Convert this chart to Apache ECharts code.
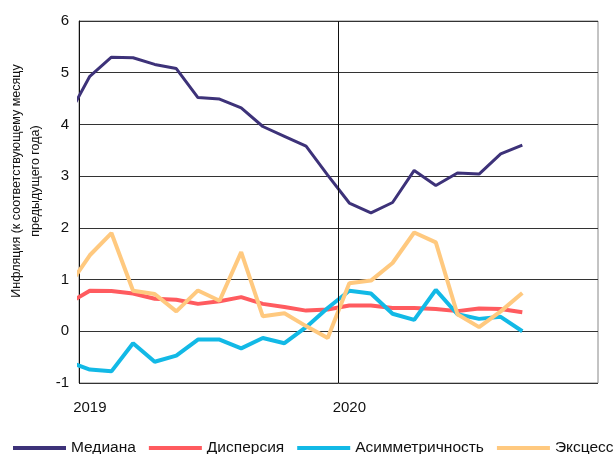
<!DOCTYPE html>
<html>
<head>
<meta charset="utf-8">
<script src="https://cdn.jsdelivr.net/npm/echarts@6/dist/echarts.min.js"></script>
<style>
  html, body { margin: 0; padding: 0; background: #fff; }
  #chart { width: 615px; height: 454px; }
</style>
</head>
<body>
<div id="chart"></div>
<script>
// months counted from Jan 2019 (0); -1 is Dec 2018, cut off by the axis
const months = [-1, 0, 1, 2, 3, 4, 5, 6, 7, 8, 9, 10, 11, 12, 13, 14, 15, 16, 17, 18, 19, 20];
const median = [4.16, 4.93, 5.30, 5.29, 5.16, 5.08, 4.52, 4.49, 4.32, 3.96, 3.77, 3.58, 3.02, 2.48, 2.29, 2.49, 3.11, 2.82, 3.06, 3.04, 3.43, 3.60];
const dispersion = [0.54, 0.785, 0.78, 0.73, 0.63, 0.61, 0.53, 0.58, 0.66, 0.53, 0.47, 0.40, 0.42, 0.50, 0.50, 0.45, 0.45, 0.43, 0.39, 0.44, 0.43, 0.37];
const asymmetry = [-0.59, -0.74, -0.775, -0.23, -0.59, -0.47, -0.16, -0.16, -0.33, -0.13, -0.23, 0.08, 0.45, 0.785, 0.73, 0.34, 0.22, 0.80, 0.33, 0.24, 0.28, 0.0];
const excess = [0.86, 1.47, 1.90, 0.785, 0.72, 0.385, 0.79, 0.59, 1.53, 0.29, 0.35, 0.10, -0.13, 0.93, 0.98, 1.32, 1.91, 1.72, 0.33, 0.08, 0.385, 0.74];
const yearTicks = [0, 12];
const yearLabels = ['2019', '2020'];

const font = '"Liberation Sans", Arial, sans-serif';

function pairs(values) {
  return months.map(function (m, i) { return [m, values[i]]; });
}

function lineSeries(name, values, color, width) {
  return {
    name: name,
    type: 'line',
    data: pairs(values),
    symbol: 'none',
    clip: true,
    lineStyle: { color: color, width: width },
    itemStyle: { color: color }
  };
}

const chart = echarts.init(document.getElementById('chart'));
const series = [
  lineSeries('Медиана', median, '#3d3279', 3),
  lineSeries('Дисперсия', dispersion, '#ff5b5f', 4),
  lineSeries('Асимметричность', asymmetry, '#12b9e6', 4),
  lineSeries('Эксцесс', excess, '#ffc97f', 4)
];
series[0].markLine = {
  silent: true,
  symbol: 'none',
  label: { show: false },
  lineStyle: { color: '#111', width: 1, type: 'solid' },
  data: [{ xAxis: 11.5 }]
};

chart.setOption({
  animation: false,
  textStyle: { fontFamily: font },
  grid: {
    left: 79,
    right: 17,
    top: 21,
    bottom: 71,
    show: true,
    borderColor: '#888',
    borderWidth: 1
  },
  graphic: [{
    type: 'text',
    x: 26,
    y: 181,
    rotation: Math.PI / 2,
    style: {
      text: 'Инфляция (к соответствующему месяцу\nпредыдущего года)',
      font: '12.5px ' + font,
      fill: '#111',
      align: 'center',
      verticalAlign: 'middle',
      lineHeight: 19
    }
  }],
  legend: {
    left: 13,
    bottom: -2,
    padding: 0,
    width: 800,
    itemWidth: 53,
    itemHeight: 4,
    itemGap: 13,
    icon: 'rect',
    textStyle: { fontSize: 15.5, color: '#111', fontFamily: font },
    data: ['Медиана', 'Дисперсия', 'Асимметричность', 'Эксцесс']
  },
  xAxis: {
    type: 'value',
    min: -0.5,
    max: 23.5,
    axisLine: { show: false, onZero: false },
    axisTick: { show: false },
    splitLine: { show: false },
    axisLabel: {
      customValues: yearTicks,
      margin: 17,
      fontSize: 15,
      color: '#111',
      formatter: function (v) {
        const i = yearTicks.indexOf(v);
        return i >= 0 ? yearLabels[i] : '';
      }
    }
  },
  yAxis: {
    type: 'value',
    min: -1,
    max: 6,
    interval: 1,
    axisLine: { show: true, onZero: false, lineStyle: { color: '#111', width: 1 } },
    axisTick: { show: false },
    splitLine: { show: true, lineStyle: { color: '#333', width: 1 } },
    axisLabel: { fontSize: 15, color: '#111', margin: 10 }
  },
  series: series
});
</script>
</body>
</html>
